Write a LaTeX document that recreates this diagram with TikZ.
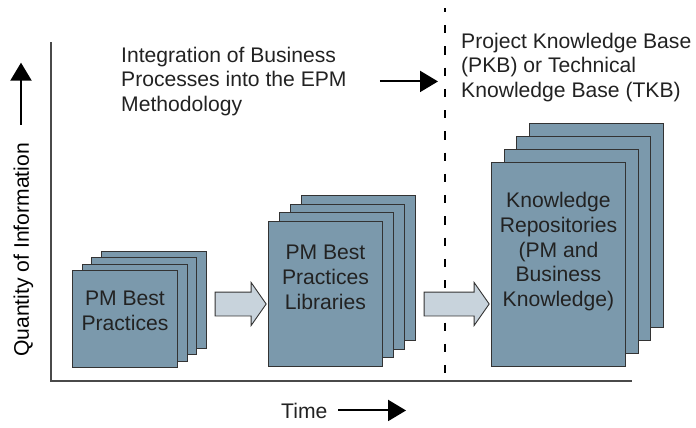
\documentclass[tikz,border=0pt]{standalone}
\usepackage{fontspec}
\setmainfont{Liberation Sans}
\usetikzlibrary{arrows.meta, positioning, calc, shapes.arrows}
\definecolor{PageBlue}{HTML}{7B99AC}
\definecolor{ArrowGray}{HTML}{C8D3DC}
\definecolor{EdgeGray}{HTML}{333333}
\definecolor{AxisGray}{HTML}{4A4A4A}
\definecolor{InkGray}{HTML}{222222}
\tikzset{
  page/.style={draw=EdgeGray, line width=0.9bp, fill=PageBlue, anchor=south west, inner sep=0pt},
  pagetext/.style={align=center, inner sep=0pt, text=InkGray},
  note/.style={align=left, inner sep=0pt, anchor=north west, text=InkGray},
  blockarrow/.style={single arrow, draw=EdgeGray, line width=0.9bp, fill=ArrowGray, inner xsep=0pt, inner ysep=11.5bp, single arrow head extend=9.5bp, single arrow tip angle=110},
  axisarrow/.style={-{Triangle[length=18bp, width=21bp]}, line width=2bp, draw=black},
  axisline/.style={line width=1.3bp, draw=AxisGray},
  divider/.style={line width=2.8bp, draw=black, dash pattern=on 8.3bp off 12.95bp, dash phase=4.25bp}
}

\begin{document}
\begin{tikzpicture}[x=1bp, y=-1bp, font=\fontsize{21.2}{25}\selectfont]
\useasboundingbox (0,0) rectangle (696,427);

% axes
\coordinate (ytop) at (51,42);
\coordinate (origin) at (51,381);
\coordinate (xend) at (632,381);
\draw[axisline] (ytop) -- (origin) -- (xend);

% divider
\coordinate (divtop) at (445,8);
\coordinate (divbot) at (445,385);
\draw[divider] (divtop) -- (divbot);

% stack 1
\foreach \k in {3,2,1}
  \node[page, minimum width=105bp, minimum height=97bp] (bp\k) at (72+9.7*\k, 368-6.4*\k) {};
\node[page, minimum width=105bp, minimum height=97bp] (bp) at (72,368) {};
\node[pagetext] (bptext) at ($(bp.center)+(0,-8.5)$) {PM Best\\Practices};

% stack 2
\foreach \k in {3,2,1}
  \node[page, minimum width=114bp, minimum height=145bp] (lib\k) at (268+11*\k, 367-8.7*\k) {};
\node[page, minimum width=114bp, minimum height=145bp] (lib) at (268,367) {};
\node[pagetext] (libtext) at ($(lib.center)+(0,-16.5)$) {PM Best\\Practices\\Libraries};

% stack 3
\foreach \k in {3,2,1}
  \node[page, minimum width=134bp, minimum height=204bp] (repo\k) at (491+12.7*\k, 367-13*\k) {};
\node[page, minimum width=134bp, minimum height=204bp] (repo) at (491,367) {};
\node[pagetext] (repotext) at ($(repo.center)+(0,-13)$) {Knowledge\\Repositories\\(PM and\\Business\\Knowledge)};

% block arrows
\node[blockarrow, minimum height=51bp] (step1) at (236.5,304) {};
\node[blockarrow, minimum height=65bp] (step2) at (452.5,304) {};

% notes
\node[note] (integr) at (121,46.5) {Integration of Business\\Processes into the EPM\\Methodology};
\node[note] (pkb) at (461,32.5) {Project Knowledge Base\\(PKB) or Technical\\Knowledge Base (TKB)};
\draw[axisarrow] ([xshift=33bp]integr.east) -- ([xshift=-23bp]integr.east -| pkb.west);

% axis labels
\node[rotate=90] (qty) at (23.5,250) {Quantity of Information};
\draw[axisarrow] ([xshift=-2.5bp, yshift=15bp]qty.east) -- ([xshift=-2.5bp, yshift=77bp]qty.east);
\node[anchor=base west, inner sep=0pt, text=InkGray] (time) at (281,418) {Time};
\draw[axisarrow] ([xshift=10.5bp]time.east) -- ([xshift=78.5bp]time.east);
\end{tikzpicture}
\end{document}
